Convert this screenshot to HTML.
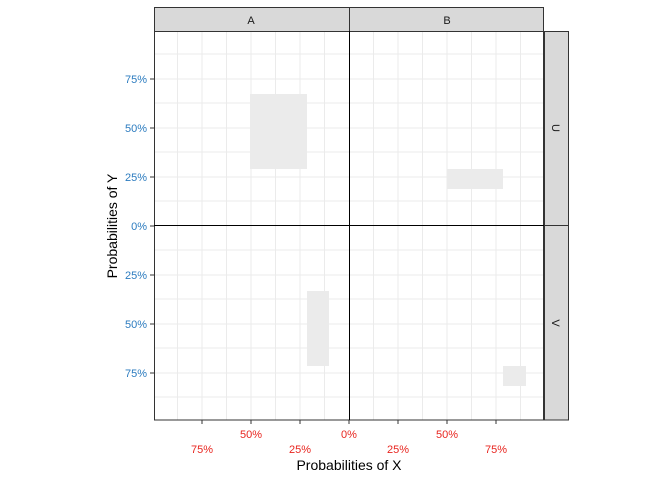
<!DOCTYPE html>
<html><head><style>
body{margin:0;background:#fff;}
svg text{font-family:"Liberation Sans",sans-serif;}
</style></head><body>
<svg width="672" height="480" viewBox="0 0 672 480" xmlns="http://www.w3.org/2000/svg">
<rect width="672" height="480" fill="#fff"/>
<g stroke="#ebebeb" stroke-width="1">
<line x1="177.5" y1="31" x2="177.5" y2="420"/><line x1="202" y1="31" x2="202" y2="420"/>
<line x1="226.5" y1="31" x2="226.5" y2="420"/><line x1="251" y1="31" x2="251" y2="420"/>
<line x1="275.5" y1="31" x2="275.5" y2="420"/><line x1="300" y1="31" x2="300" y2="420"/>
<line x1="324.5" y1="31" x2="324.5" y2="420"/>
<line x1="373.5" y1="31" x2="373.5" y2="420"/><line x1="398" y1="31" x2="398" y2="420"/>
<line x1="422.5" y1="31" x2="422.5" y2="420"/><line x1="447" y1="31" x2="447" y2="420"/>
<line x1="471.5" y1="31" x2="471.5" y2="420"/><line x1="496" y1="31" x2="496" y2="420"/>
<line x1="520.5" y1="31" x2="520.5" y2="420"/>
<line x1="154" y1="54" x2="544" y2="54"/><line x1="154" y1="79" x2="544" y2="79"/>
<line x1="154" y1="103" x2="544" y2="103"/><line x1="154" y1="128" x2="544" y2="128"/>
<line x1="154" y1="152" x2="544" y2="152"/><line x1="154" y1="177" x2="544" y2="177"/>
<line x1="154" y1="201" x2="544" y2="201"/>
<line x1="154" y1="250" x2="544" y2="250"/><line x1="154" y1="275" x2="544" y2="275"/>
<line x1="154" y1="299" x2="544" y2="299"/><line x1="154" y1="324" x2="544" y2="324"/>
<line x1="154" y1="348" x2="544" y2="348"/><line x1="154" y1="373" x2="544" y2="373"/>
<line x1="154" y1="397" x2="544" y2="397"/>
</g>
<g fill="#ebebeb">
<rect x="250" y="94" width="57" height="75"/>
<rect x="447" y="169" width="56" height="20"/>
<rect x="307" y="291" width="22" height="75"/>
<rect x="503" y="366" width="23" height="20"/>
</g>
<g fill="none" stroke="#333" stroke-width="1">
<rect x="154.5" y="31.5" width="389" height="388.5"/>
<rect x="154.5" y="7.5" width="389" height="24" fill="#d9d9d9"/>
<rect x="544.5" y="31.5" width="24" height="388.5" fill="#d9d9d9"/>
<line x1="349.5" y1="7" x2="349.5" y2="31"/>
<line x1="544" y1="225.5" x2="569" y2="225.5"/>
</g>
<line x1="349.5" y1="31" x2="349.5" y2="420" stroke="#000"/>
<line x1="154" y1="225.5" x2="544" y2="225.5" stroke="#000"/>
<g font-size="11" fill="#1a1a1a" text-anchor="middle">
<text x="251" y="24">A</text><text x="447" y="24">B</text>
<text transform="translate(552,128) rotate(90)">U</text>
<text transform="translate(552,323) rotate(90)">V</text>
</g>
<g stroke="#333"><line x1="150" y1="79" x2="154" y2="79"/><line x1="150" y1="128" x2="154" y2="128"/><line x1="150" y1="177" x2="154" y2="177"/><line x1="150" y1="226" x2="154" y2="226"/><line x1="150" y1="275" x2="154" y2="275"/><line x1="150" y1="324" x2="154" y2="324"/><line x1="150" y1="373" x2="154" y2="373"/>
<line x1="202" y1="420" x2="202" y2="424"/><line x1="251" y1="420" x2="251" y2="424"/><line x1="300" y1="420" x2="300" y2="424"/><line x1="349" y1="420" x2="349" y2="424"/><line x1="398" y1="420" x2="398" y2="424"/><line x1="447" y1="420" x2="447" y2="424"/><line x1="496" y1="420" x2="496" y2="424"/></g>
<g font-size="11" fill="#2b7bbf" text-anchor="end">
<text x="147" y="83">75%</text><text x="147" y="132">50%</text><text x="147" y="181">25%</text><text x="147" y="230">0%</text><text x="147" y="279">25%</text><text x="147" y="328">50%</text><text x="147" y="377">75%</text>
</g>
<g font-size="11" fill="#e8251f" text-anchor="middle">
<text x="251" y="438">50%</text><text x="349" y="438">0%</text><text x="447" y="438">50%</text>
<text x="202" y="453">75%</text><text x="300" y="453">25%</text><text x="398" y="453">25%</text><text x="496" y="453">75%</text>
</g>
<text x="349" y="470" font-size="14" text-anchor="middle" fill="#000">Probabilities of X</text>
<text transform="translate(117,226) rotate(-90)" font-size="14" text-anchor="middle" fill="#000">Probabilities of Y</text>
</svg>
</body></html>
